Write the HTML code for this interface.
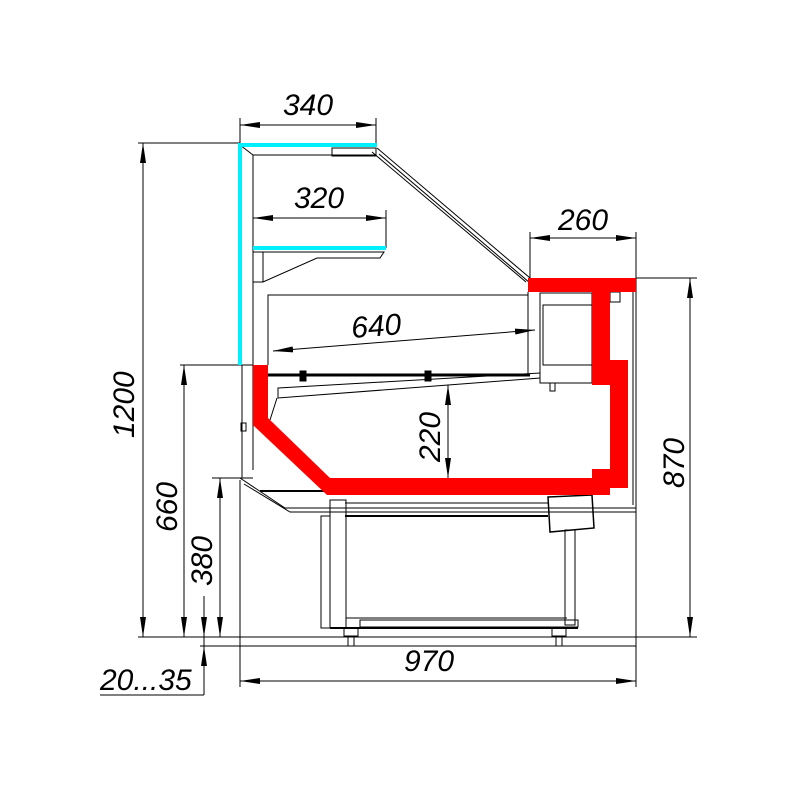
<!DOCTYPE html>
<html><head><style>
html,body{margin:0;padding:0;background:#fff;}
svg text{font-family:"Liberation Sans",sans-serif;font-style:italic;font-size:30px;fill:#000;}
</style></head><body>
<svg width="800" height="800" viewBox="0 0 800 800" xmlns="http://www.w3.org/2000/svg">
<defs>
<marker id="a" viewBox="0 0 20 6" refX="20" refY="3" markerWidth="20" markerHeight="6" markerUnits="userSpaceOnUse" orient="auto"><path d="M0,0 L20,3 L0,6 Z" fill="#000"/></marker>
<marker id="b" viewBox="0 0 20 6" refX="0" refY="3" markerWidth="20" markerHeight="6" markerUnits="userSpaceOnUse" orient="auto"><path d="M20,0 L0,3 L20,6 Z" fill="#000"/></marker>
</defs>
<g stroke="#000" stroke-width="1" fill="none">
<!-- extension lines -->
<line x1="138" y1="143" x2="240" y2="143"/>
<line x1="180" y1="365" x2="253" y2="365"/>
<line x1="212" y1="478" x2="253" y2="478"/>
<line x1="636" y1="278" x2="697" y2="278"/>
<line x1="138" y1="637" x2="697" y2="637"/>
<line x1="200" y1="646" x2="636" y2="646"/>
<line x1="240" y1="118" x2="240" y2="143"/>
<line x1="376" y1="118" x2="376" y2="145"/>
<line x1="530" y1="232" x2="530" y2="278"/>
<line x1="636" y1="232" x2="636" y2="278"/>
<line x1="386" y1="210" x2="386" y2="248"/>
<line x1="240" y1="480" x2="240" y2="687"/>
<line x1="636" y1="290" x2="636" y2="687"/>
<line x1="100" y1="695" x2="204" y2="695"/>
<line x1="204" y1="596" x2="204" y2="695"/>
<!-- dimension lines -->
<line x1="240" y1="125" x2="376" y2="125" marker-start="url(#b)" marker-end="url(#a)"/>
<line x1="253" y1="218" x2="386" y2="218" marker-start="url(#b)" marker-end="url(#a)"/>
<line x1="530" y1="238" x2="636" y2="238" marker-start="url(#b)" marker-end="url(#a)"/>
<line x1="273" y1="351" x2="535" y2="330" marker-start="url(#b)" marker-end="url(#a)"/>
<line x1="448" y1="385" x2="448" y2="478" marker-start="url(#b)" marker-end="url(#a)"/>
<line x1="143" y1="143" x2="143" y2="637" marker-start="url(#b)" marker-end="url(#a)"/>
<line x1="184" y1="365" x2="184" y2="637" marker-start="url(#b)" marker-end="url(#a)"/>
<line x1="220" y1="478" x2="220" y2="637" marker-start="url(#b)" marker-end="url(#a)"/>
<line x1="204" y1="596" x2="204" y2="637" marker-end="url(#a)"/>
<line x1="204" y1="668" x2="204" y2="646" marker-end="url(#a)"/>
<line x1="690" y1="278" x2="690" y2="637" marker-start="url(#b)" marker-end="url(#a)"/>
<line x1="240" y1="681" x2="636" y2="681" marker-start="url(#b)" marker-end="url(#a)"/>

<!-- cabinet outline -->
<line x1="253" y1="155" x2="253" y2="470"/>
<line x1="253" y1="155" x2="376" y2="155"/>
<line x1="240" y1="145" x2="253" y2="155"/>
<rect x="332" y="148" width="44" height="8"/>
<line x1="377" y1="148" x2="530" y2="278"/>
<line x1="372" y1="152" x2="526" y2="282"/>
<line x1="379" y1="154" x2="530" y2="283"/>
<path d="M253,252 L384,252 L380,258 L317,258 L263,282 L253,282"/>
<line x1="263" y1="252" x2="263" y2="282"/>
<path d="M268,365 L268,295 L528,295"/>
<line x1="528" y1="292" x2="528" y2="375"/>
<rect x="540" y="293" width="52" height="90"/>
<rect x="543" y="305" width="49" height="60"/>
<rect x="550" y="383" width="5" height="8"/>
<rect x="610" y="292" width="10" height="10"/>
<line x1="636" y1="278" x2="636" y2="510"/>
<line x1="633" y1="292" x2="633" y2="505"/>
<line x1="268" y1="375" x2="530" y2="375" stroke-width="3"/>
<path d="M278,388 L540,373 L540,378 L278,398 Z"/>
<rect x="300" y="371" width="6" height="10" fill="#000"/>
<rect x="425" y="371" width="6" height="10" fill="#000"/>
<line x1="277" y1="398" x2="270" y2="420"/>
<line x1="242" y1="365" x2="242" y2="478"/>
<rect x="241" y="423" width="5" height="8"/>
<!-- base -->
<path d="M240,478 L285,508 L636,508"/>
<path d="M244,484 L290,512 L636,512"/>
<line x1="260" y1="491" x2="330" y2="491" stroke-width="2"/>
<line x1="345" y1="503" x2="548" y2="503"/>
<line x1="345" y1="516" x2="548" y2="516" stroke-width="2"/>
<!-- stand -->
<rect x="330" y="500" width="16" height="128"/>
<rect x="321" y="516" width="9" height="112"/>
<rect x="565" y="530" width="10" height="95"/>
<path d="M346,618 L567,618"/>
<rect x="360" y="620" width="218" height="7"/>
<line x1="330" y1="628" x2="578" y2="628" stroke-width="2"/>
<rect x="344" y="628" width="14" height="8"/>
<rect x="348" y="636" width="6" height="10"/>
<rect x="552" y="628" width="14" height="8"/>
<rect x="556" y="636" width="6" height="10"/>
<path d="M548,497 L592,495 L594,528 L550,532 Z" stroke-width="1.5"/>
</g>
<!-- cyan -->
<g fill="#00f0ff">
<rect x="238" y="143" width="139" height="4"/>
<rect x="238" y="143" width="4" height="222"/>
<rect x="253" y="246" width="133" height="4"/>
</g>
<!-- red -->
<g fill="#ff0000">
<polygon points="253,365 268,365 268,418 330,478 610,478 610,495 327,495 253,425"/>
<rect x="528" y="278" width="108" height="14"/>
<rect x="592" y="290" width="18" height="95"/>
<rect x="610" y="360" width="18" height="128"/>
<rect x="592" y="469" width="18" height="26"/>
</g>
<!-- labels -->
<text x="283" y="115">340</text>
<text x="294" y="208">320</text>
<text x="558" y="230">260</text>
<text x="0" y="0" transform="translate(352,338) rotate(-4.5)">640</text>
<text x="0" y="0" transform="translate(440,462) rotate(-90)">220</text>
<text x="0" y="0" transform="translate(134,438) rotate(-90)">1200</text>
<text x="0" y="0" transform="translate(177,532) rotate(-90)">660</text>
<text x="0" y="0" transform="translate(212,586) rotate(-90)">380</text>
<text x="0" y="0" transform="translate(684,488) rotate(-90)">870</text>
<text x="404" y="671">970</text>
<text x="100" y="690">20...35</text>
</svg>
</body></html>
